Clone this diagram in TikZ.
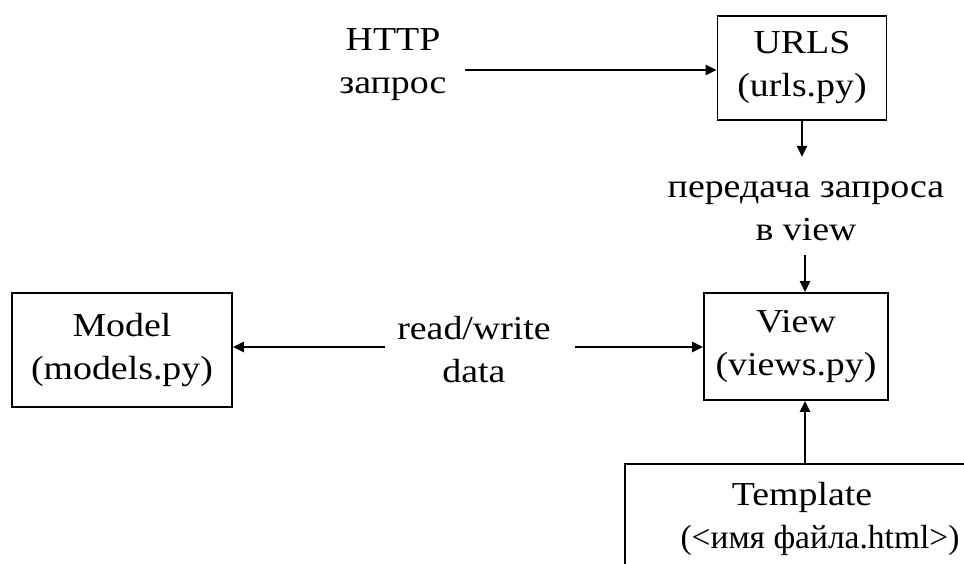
\documentclass[tikz,border=0pt]{standalone}
\usepackage{fontspec}
\setmainfont{Liberation Serif}[FakeStretch=1.13]
\newfontfamily\plainserif{Liberation Serif}
\usetikzlibrary{arrows.meta}
\begin{document}
\begin{tikzpicture}[x=1pt,y=-1pt,
  every node/.style={font=\fontsize{33.5}{43}\selectfont, align=center, inner sep=0pt},
  box/.style={draw, line width=1.8pt},
  conn/.style={line width=2.2pt, -{Triangle[length=11pt,width=10pt]}}]
  \clip (0,0) rectangle (964,564);
  \useasboundingbox (0,0) rectangle (964,564);

  % boxes
  \node[box, minimum width=169pt, minimum height=104pt] (urls) at (802,68) {URLS\\(urls.py)};
  \node[box, minimum width=184pt, minimum height=107pt] (view) at (796,346.5) {View\\(views.py)};
  \node[box, minimum width=220pt, minimum height=114pt] (model) at (122,350) {Model\\(models.py)};
  \node[box, minimum width=400pt, minimum height=160pt, anchor=north west] (tpl) at (624,463) {};
  \node (tpltext) at (820,519) {Template\hspace*{36pt}\\{\plainserif(<имя файла.html>)}};

  % labels
  \node (http) at (393,65) {HTTP\\запрос};
  \node (pass) at (806,211) {передача запроса\\в view};
  \node (rw) at (474,350) {read/write\\data};

  % connectors
  \coordinate (h0) at (465,70);
  \draw[conn] (h0) -- (h0 -| urls.west);
  \draw[conn] (urls.south) -- ++(0,36);
  \coordinate (v0) at (805,255);
  \draw[conn] (v0) -- (v0 |- view.north);
  \coordinate (r0) at (385,347);
  \draw[conn] (r0) -- (model.east |- r0);
  \coordinate (r1) at (575,347);
  \draw[conn] (r1) -- (view.west |- r1);
  \coordinate (t0) at (805,463);
  \draw[conn] (t0) -- (t0 |- view.south);
\end{tikzpicture}
\end{document}
